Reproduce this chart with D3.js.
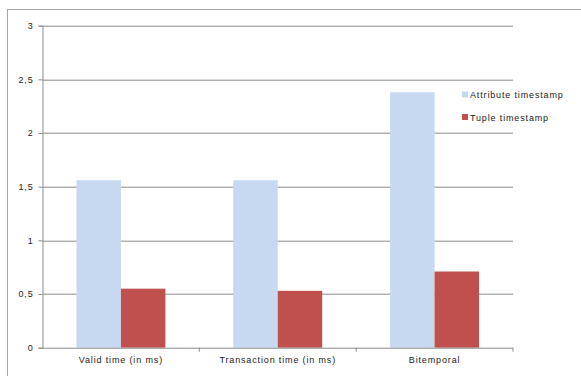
<!DOCTYPE html>
<html>
<head>
<meta charset="utf-8">
<script src="https://cdn.jsdelivr.net/npm/d3@7"></script>
<style>
  html, body { margin: 0; padding: 0; background: #fff; }
  svg { display: block; }
  text { font-family: "Liberation Sans", Arial, sans-serif; fill: #222; letter-spacing: 0.85px; }
</style>
</head>
<body>
<svg id="chart" width="581" height="376"></svg>
<script>
// Query timings per timestamping strategy
const categories = ["Valid time (in ms)", "Transaction time (in ms)", "Bitemporal"];
const seriesNames = ["Attribute timestamp", "Tuple timestamp"];
const attributeValues = [1.56, 1.56, 2.38];
const tupleValues = [0.55, 0.53, 0.71];
const yTicks = [0, 0.5, 1, 1.5, 2, 2.5, 3];
const colors = ["#c6d9f1", "#c0504d"];

const svg = d3.select("#chart");
const W = 581, H = 376;
const margin = { left: 42.5, right: 68, top: 25.7, bottom: 28.3 };
const plotW = W - margin.left - margin.right;
const plotH = H - margin.top - margin.bottom;

// Outer chart frame
svg.append("rect")
  .attr("x", 7.5).attr("y", 9.5)
  .attr("width", 600).attr("height", 400)
  .attr("fill", "#fff").attr("stroke", "#a6a6a6").attr("stroke-width", 1);

const g = svg.append("g").attr("transform", `translate(${margin.left},${margin.top})`);

const x0 = d3.scaleBand().domain(categories).range([0, plotW]).paddingInner(0).paddingOuter(0);
const groupW = x0.bandwidth() * 0.567;
const x1 = d3.scaleBand().domain(seriesNames).range([0, groupW]).padding(0);
const y = d3.scaleLinear().domain([0, 3]).range([plotH, 0]);

// Horizontal gridlines
g.append("g").selectAll("line")
  .data(yTicks.filter(d => d > 0))
  .join("line")
  .attr("x1", 0).attr("x2", plotW)
  .attr("y1", d => Math.round(y(d)) + 0.5).attr("y2", d => Math.round(y(d)) + 0.5)
  .attr("stroke", "#8c8c8c").attr("stroke-width", 1);

// Bars
const rows = categories.map((c, i) => ({ cat: c, vals: [attributeValues[i], tupleValues[i]] }));
const groups = g.append("g").selectAll("g")
  .data(rows)
  .join("g")
  .attr("transform", d => `translate(${x0(d.cat) + (x0.bandwidth() - groupW) / 2},0)`);
groups.selectAll("rect")
  .data(d => d.vals.map((v, k) => ({ name: seriesNames[k], v, k })))
  .join("rect")
  .attr("x", d => x1(d.name))
  .attr("width", x1.bandwidth())
  .attr("y", d => y(d.v))
  .attr("height", d => plotH - y(d.v))
  .attr("fill", d => colors[d.k]);

// Y axis
const yAxis = g.append("g")
  .call(d3.axisLeft(y).tickValues(yTicks).tickSize(4).tickPadding(5)
    .tickFormat(d => String(d).replace(".", ",")));
yAxis.select(".domain").attr("stroke", "#8c8c8c");
yAxis.selectAll(".tick line").attr("stroke", "#8c8c8c");
yAxis.selectAll(".tick text").attr("font-size", "9px").attr("fill", "#222")
  .attr("font-family", "Liberation Sans, Arial, sans-serif");

// X axis with boundary ticks between categories
const xAxis = g.append("g").attr("transform", `translate(0,${plotH})`);
xAxis.append("line").attr("x1", 0).attr("x2", plotW).attr("y1", 0.5).attr("y2", 0.5)
  .attr("stroke", "#8c8c8c");
xAxis.selectAll("line.b")
  .data(categories.slice(1).concat(["end"]))
  .join("line")
  .attr("class", "b")
  .attr("x1", (d, i) => x0.step() * (i + 1)).attr("x2", (d, i) => x0.step() * (i + 1))
  .attr("y1", 0).attr("y2", 4)
  .attr("stroke", "#8c8c8c");
xAxis.selectAll("text")
  .data(categories)
  .join("text")
  .attr("x", d => x0(d) + x0.bandwidth() / 2)
  .attr("y", 15)
  .attr("text-anchor", "middle")
  .attr("font-size", "9px")
  .text(d => d);

// Legend
const legend = svg.append("g").attr("transform", "translate(462,0)");
const items = legend.selectAll("g")
  .data(seriesNames)
  .join("g")
  .attr("transform", (d, i) => `translate(0,${95 + i * 22.5})`);
items.append("rect").attr("x", 0).attr("y", -3.5).attr("width", 6).attr("height", 6)
  .attr("fill", (d, i) => colors[i]);
items.append("text").attr("x", 8).attr("y", 3.3).attr("font-size", "9px").text(d => d);
</script>
</body>
</html>
